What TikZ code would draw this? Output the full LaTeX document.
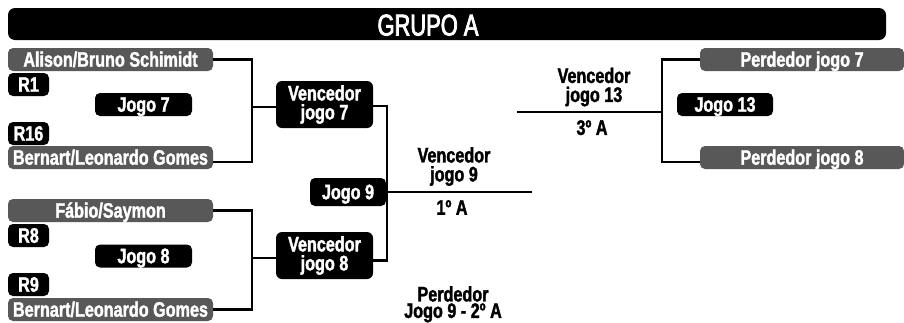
\documentclass[tikz,border=0pt]{standalone}
\usepackage{fontspec}
\newfontfamily\cf{Liberation Sans}[FakeStretch=0.77, BoldFeatures={FakeBold=1.6}]
\newfontfamily\tf{Liberation Sans}[FakeStretch=0.73, FakeBold=2.6]
\definecolor{boxgray}{RGB}{88,88,88}
\begin{document}
\begin{tikzpicture}[x=1pt,y=-1pt,
  lbl/.style={font=\cf\bfseries\fontsize{21}{19}\selectfont},
  onebox/.style={lbl, rounded corners=5pt, text=white, inner sep=0pt,
    text height=14.4pt, text depth=0pt, minimum height=23pt},
  graybox/.style={onebox, fill=boxgray},
  blackbox/.style={onebox, fill=black},
  twobox/.style={lbl, fill=black, text=white, rounded corners=6pt, inner sep=0pt,
    align=center, minimum width=97pt, minimum height=47pt},
  freetext/.style={lbl, inner sep=0pt, align=center, anchor=north},
  conn/.style={line width=2.2pt}
]
\useasboundingbox (0,0) rectangle (904,322);
% title
\node[fill=black, rounded corners=7pt, minimum width=878pt, minimum height=32pt, inner sep=0pt] (bar) at (447,24) {};
\node[text=white, font=\tf\fontsize{30}{30}\selectfont, anchor=base, inner sep=0pt] (title) at (428,35.5) {GRUPO A};
% group 1
\node[graybox, minimum width=205pt] (a1) at (110.5,59.5) {Alison/Bruno Schimidt};
\node[blackbox, minimum width=41pt] (r1) at (28.5,84.5) {R1};
\node[blackbox, minimum width=97pt] (j7) at (143.5,104.5) {Jogo 7};
\node[blackbox, minimum width=41pt] (r16) at (28.5,133.5) {R16};
\node[graybox, minimum width=205pt] (b1) at (110.5,157.5) {Bernart/Leonardo Gomes};
\node[twobox] (v7) at (324.5,104.5) {Vencedor\\jogo 7};
% group 2
\node[graybox, minimum width=205pt] (f) at (110.5,210.5) {Fábio/Saymon};
\node[blackbox, minimum width=41pt] (r8) at (28.5,235.5) {R8};
\node[blackbox, minimum width=97pt] (j8) at (143.5,256) {Jogo 8};
\node[blackbox, minimum width=41pt] (r9) at (28.5,284.5) {R9};
\node[graybox, minimum width=205pt] (b2) at (110.5,309.5) {Bernart/Leonardo Gomes};
\node[twobox] (v8) at (324.5,255.5) {Vencedor\\jogo 8};
% jogo 9
\node[blackbox, minimum width=76pt, minimum height=28pt] (j9) at (348,192) {Jogo 9};
% right
\node[graybox, minimum width=204pt] (p7) at (802,59.5) {Perdedor jogo 7};
\node[blackbox, minimum width=96pt] (j13) at (725,104.5) {Jogo 13};
\node[graybox, minimum width=204pt] (p8) at (802,157.5) {Perdedor jogo 8};
% free labels
\node[freetext] (l9) at (454,147) {Vencedor\\jogo 9};
\node[freetext] (l9b) at (452,200) {1º A};
\node[freetext] (l13) at (594,67.5) {Vencedor\\jogo 13};
\node[freetext] (l13b) at (592,120) {3º A};
\node[freetext, font=\cf\bfseries\fontsize{21}{16.5}\selectfont] (lp) at (453,286) {Perdedor\\Jogo 9 - 2º A};
% connectors
\coordinate (k7) at (252,107);
\coordinate (k8) at (252,258);
\coordinate (k9) at (387,192);
\coordinate (e9) at (532,192);
\coordinate (k13) at (662,112);
\coordinate (e13) at (517,112);
\draw[conn] (a1.east) -| (k7) |- ([yshift=-4.5pt]b1.east);
\draw[conn] (k7) -- (k7 -| v7.west);
\draw[conn] (f.east) -| (k8) |- (b2.east);
\draw[conn] (k8) -- (k8 -| v8.west);
\draw[conn] ([yshift=-1.5pt]v7.east) -| (k9) |- ([yshift=-5pt]v8.east);
\draw[conn] (k9) -- (e9);
\draw[conn] (p7.west) -| (k13) |- ([yshift=-4.5pt]p8.west);
\draw[conn] (k13) -- (e13);
\end{tikzpicture}
\end{document}
